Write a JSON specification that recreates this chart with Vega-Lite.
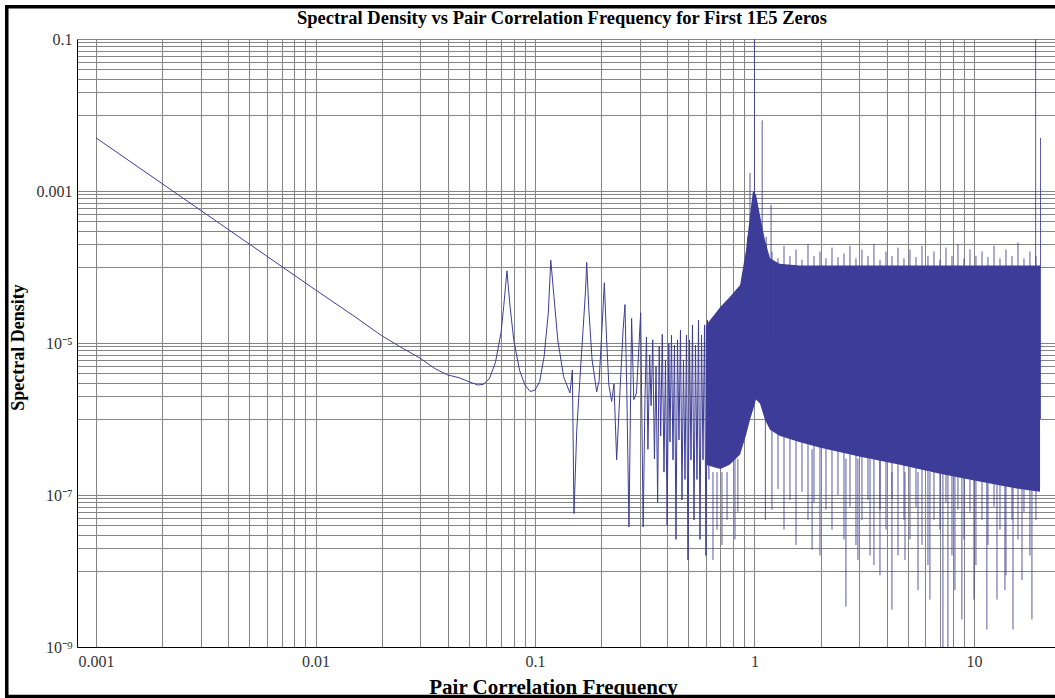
{
  "$schema": "https://vega.github.io/schema/vega-lite/v6.json",
  "width": 978,
  "height": 608,
  "autosize": {"type": "none"},
  "padding": {"left": 77, "top": 39, "right": 0, "bottom": 51},
  "background": "white",
  "config": {"view": {"stroke": null}},
  "title": {
    "text": "Spectral Density vs Pair Correlation Frequency for First 1E5 Zeros",
    "font": "Liberation Serif", "fontSize": 18.5, "fontWeight": "bold", "color": "#000",
    "anchor": "middle", "frame": "group", "dx": -4, "baseline": "alphabetic", "offset": -38
  },
  "datasets": {
    "curve": [
      {"f": 0.001, "s": 0.005},
      {"f": 0.002, "s": 0.00125},
      {"f": 0.005, "s": 0.0002},
      {"f": 0.01, "s": 0.00005},
      {"f": 0.015, "s": 0.0000225},
      {"f": 0.02, "s": 0.0000125},
      {"f": 0.025, "s": 0.0000085},
      {"f": 0.03, "s": 0.0000063},
      {"f": 0.035, "s": 0.0000046},
      {"f": 0.04, "s": 0.0000038},
      {"f": 0.045, "s": 0.0000035},
      {"f": 0.05, "s": 0.0000031},
      {"f": 0.055, "s": 0.0000028},
      {"f": 0.058, "s": 0.00000285},
      {"f": 0.062, "s": 0.0000034},
      {"f": 0.066, "s": 0.0000055},
      {"f": 0.07, "s": 0.0000136},
      {"f": 0.072, "s": 0.00003},
      {"f": 0.0745, "s": 0.000089},
      {"f": 0.077, "s": 0.00003},
      {"f": 0.08, "s": 0.000011},
      {"f": 0.085, "s": 0.0000044},
      {"f": 0.09, "s": 0.0000028},
      {"f": 0.095, "s": 0.0000023},
      {"f": 0.1, "s": 0.0000024},
      {"f": 0.105, "s": 0.0000031},
      {"f": 0.11, "s": 0.0000066},
      {"f": 0.115, "s": 0.000025},
      {"f": 0.118, "s": 0.000123},
      {"f": 0.122, "s": 0.000041},
      {"f": 0.127, "s": 0.000011},
      {"f": 0.135, "s": 0.0000036},
      {"f": 0.1443, "s": 0.0000022},
      {"f": 0.148, "s": 0.0000044},
      {"f": 0.1505, "s": 0.000000057},
      {"f": 0.155, "s": 0.00000072},
      {"f": 0.16, "s": 0.0000032},
      {"f": 0.1656, "s": 0.000015},
      {"f": 0.17, "s": 0.00005},
      {"f": 0.172, "s": 0.000115},
      {"f": 0.176, "s": 0.000027},
      {"f": 0.182, "s": 0.000006},
      {"f": 0.191, "s": 0.00000228},
      {"f": 0.196, "s": 0.0000032},
      {"f": 0.2018, "s": 0.000015},
      {"f": 0.207, "s": 0.000062},
      {"f": 0.212, "s": 0.000011},
      {"f": 0.217, "s": 0.0000028},
      {"f": 0.2235, "s": 0.0000017},
      {"f": 0.229, "s": 0.0000029},
      {"f": 0.2355, "s": 0.00000029},
      {"f": 0.244, "s": 0.0000024},
      {"f": 0.252, "s": 0.000015},
      {"f": 0.257, "s": 0.000032},
      {"f": 0.262, "s": 0.0000024},
      {"f": 0.268, "s": 0.000000038},
      {"f": 0.2755, "s": 0.000021},
      {"f": 0.282, "s": 0.0000018},
      {"f": 0.29, "s": 0.0000022},
      {"f": 0.303, "s": 0.000025},
      {"f": 0.311, "s": 0.000000038},
      {"f": 0.317, "s": 0.0000018},
      {"f": 0.322, "s": 0.000012},
      {"f": 0.327, "s": 0.0000004},
      {"f": 0.333, "s": 0.000007},
      {"f": 0.338, "s": 0.0000015},
      {"f": 0.344, "s": 0.000011},
      {"f": 0.35, "s": 0.0000003},
      {"f": 0.356, "s": 0.000005},
      {"f": 0.362, "s": 0.00000008},
      {"f": 0.368, "s": 0.000009},
      {"f": 0.374, "s": 0.0000006},
      {"f": 0.38, "s": 0.000013},
      {"f": 0.387, "s": 0.0000002},
      {"f": 0.393, "s": 0.000006},
      {"f": 0.4, "s": 0.00000004},
      {"f": 0.407, "s": 0.00001},
      {"f": 0.4121, "s": 0.0000005},
      {"f": 0.4186, "s": 0.0000127},
      {"f": 0.4253, "s": 0.00000029},
      {"f": 0.432, "s": 0.0000094},
      {"f": 0.4389, "s": 0.000000026},
      {"f": 0.4458, "s": 0.000011},
      {"f": 0.4529, "s": 0.00000053},
      {"f": 0.4601, "s": 0.0000148},
      {"f": 0.4674, "s": 0.000000086},
      {"f": 0.4748, "s": 0.000006},
      {"f": 0.4824, "s": 0.00000016},
      {"f": 0.49, "s": 0.0000127},
      {"f": 0.4978, "s": 0.000000014},
      {"f": 0.5058, "s": 0.000011},
      {"f": 0.5138, "s": 0.00000029},
      {"f": 0.5219, "s": 0.0000173},
      {"f": 0.5302, "s": 0.000000047},
      {"f": 0.5386, "s": 0.0000094},
      {"f": 0.5471, "s": 0.00000016},
      {"f": 0.5558, "s": 0.00002},
      {"f": 0.5646, "s": 0.000000026},
      {"f": 0.5736, "s": 0.0000127},
      {"f": 0.5827, "s": 0.00000029},
      {"f": 0.5919, "s": 0.0000173},
      {"f": 0.6012, "s": 0.000000016},
      {"f": 0.6107, "s": 0.00002},
      {"f": 0.6204, "s": 0.00000016}
    ],
    "band": [
      {"f": 0.6, "hi": 0.000017, "lo": 0.00000025},
      {"f": 0.66, "hi": 0.000024, "lo": 0.00000023},
      {"f": 0.7, "hi": 0.00003, "lo": 0.00000022},
      {"f": 0.77, "hi": 0.00004, "lo": 0.00000025},
      {"f": 0.86, "hi": 0.000058, "lo": 0.00000034},
      {"f": 0.915, "hi": 0.000166, "lo": 0.00000061},
      {"f": 0.954, "hi": 0.00048, "lo": 0.00000098},
      {"f": 0.984, "hi": 0.001, "lo": 0.0000013},
      {"f": 1.016, "hi": 0.0009, "lo": 0.0000018},
      {"f": 1.059, "hi": 0.00048, "lo": 0.0000016},
      {"f": 1.116, "hi": 0.000226, "lo": 0.00000098},
      {"f": 1.177, "hi": 0.00013, "lo": 0.00000072},
      {"f": 1.3, "hi": 0.00011, "lo": 0.0000006},
      {"f": 1.6, "hi": 0.000105, "lo": 0.0000005},
      {"f": 2.0, "hi": 0.000105, "lo": 0.00000042},
      {"f": 3.0, "hi": 0.000105, "lo": 0.00000032},
      {"f": 4.6, "hi": 0.000105, "lo": 0.00000025},
      {"f": 7.0, "hi": 0.000105, "lo": 0.00000019},
      {"f": 10.6, "hi": 0.000105, "lo": 0.00000015},
      {"f": 16.2, "hi": 0.000105, "lo": 0.00000012},
      {"f": 20.0, "hi": 0.000105, "lo": 0.00000011}
    ],
    "spikes": [
      {"f": 1.0, "top": 0.1, "bot": 0.000002},
      {"f": 1.084, "top": 0.0085, "bot": 0.00001},
      {"f": 0.954, "top": 0.00173, "bot": 0.00001},
      {"f": 1.19, "top": 0.00066, "bot": 0.00001},
      {"f": 1.13, "top": 0.00025, "bot": 0.00001},
      {"f": 0.93, "top": 0.00025, "bot": 0.00001},
      {"f": 19.1, "top": 0.1, "bot": 0.000001},
      {"f": 20.1, "top": 0.005, "bot": 0.000001},
      {"f": 0.647, "top": 0.0000002, "bot": 0.000000014},
      {"f": 0.675, "top": 0.0000002, "bot": 0.000000035},
      {"f": 0.711, "top": 0.0000002, "bot": 0.000000022},
      {"f": 0.75, "top": 0.0000002, "bot": 0.000000047},
      {"f": 0.815, "top": 0.0000003, "bot": 0.000000026},
      {"f": 0.84, "top": 0.0000003, "bot": 0.00000006},
      {"f": 1.121, "top": 0.000001, "bot": 0.000000047},
      {"f": 1.83, "top": 0.0000004, "bot": 0.000000019},
      {"f": 2.61, "top": 0.0000003, "bot": 0.0000000034},
      {"f": 2.96, "top": 0.0000003, "bot": 0.000000014},
      {"f": 3.36, "top": 0.0000003, "bot": 0.000000016},
      {"f": 3.73, "top": 0.0000003, "bot": 0.0000000088},
      {"f": 4.23, "top": 0.0000002, "bot": 0.0000000031},
      {"f": 4.85, "top": 0.0000002, "bot": 0.000000014},
      {"f": 5.56, "top": 0.0000002, "bot": 0.0000000056},
      {"f": 6.3, "top": 0.0000002, "bot": 0.0000000042},
      {"f": 7.22, "top": 0.0000002, "bot": 0.000000001},
      {"f": 7.61, "top": 0.0000002, "bot": 0.000000001},
      {"f": 8.19, "top": 0.0000002, "bot": 0.0000000056},
      {"f": 8.81, "top": 0.0000002, "bot": 0.0000000023},
      {"f": 10.0, "top": 0.0000002, "bot": 0.0000000042},
      {"f": 11.45, "top": 0.0000002, "bot": 0.0000000017},
      {"f": 12.73, "top": 0.0000002, "bot": 0.0000000042},
      {"f": 13.84, "top": 0.0000002, "bot": 0.0000000056},
      {"f": 15.06, "top": 0.0000002, "bot": 0.0000000017},
      {"f": 16.55, "top": 0.0000002, "bot": 0.0000000076},
      {"f": 18.37, "top": 0.0000002, "bot": 0.0000000023},
      {"f": 1.201, "top": 0.00016, "bot": 0.000000064},
      {"f": 1.28, "top": 0.00013, "bot": 0.00000012},
      {"f": 1.363, "top": 0.00019, "bot": 0.000000035},
      {"f": 1.451, "top": 0.00014, "bot": 0.000000086},
      {"f": 1.546, "top": 0.00017, "bot": 0.000000022},
      {"f": 1.646, "top": 0.000125, "bot": 0.00000011},
      {"f": 1.753, "top": 0.0002, "bot": 0.000000047},
      {"f": 1.867, "top": 0.00014, "bot": 0.00000008},
      {"f": 1.988, "top": 0.00016, "bot": 0.000000016},
      {"f": 2.117, "top": 0.00013, "bot": 0.000000064},
      {"f": 2.255, "top": 0.00018, "bot": 0.000000035},
      {"f": 2.401, "top": 0.000135, "bot": 0.0000001},
      {"f": 2.557, "top": 0.00015, "bot": 0.000000026},
      {"f": 2.723, "top": 0.00019, "bot": 0.00000007},
      {"f": 2.9, "top": 0.00013, "bot": 0.000000022},
      {"f": 3.088, "top": 0.00017, "bot": 0.000000047},
      {"f": 3.289, "top": 0.00014, "bot": 0.000000086},
      {"f": 3.502, "top": 0.0002, "bot": 0.000000012},
      {"f": 3.731, "top": 0.000125, "bot": 0.000000064},
      {"f": 3.973, "top": 0.00016, "bot": 0.000000035},
      {"f": 4.231, "top": 0.00014, "bot": 0.00000009},
      {"f": 4.506, "top": 0.00018, "bot": 0.000000016},
      {"f": 4.799, "top": 0.00013, "bot": 0.000000047},
      {"f": 5.11, "top": 0.00017, "bot": 0.000000026},
      {"f": 5.443, "top": 0.000135, "bot": 0.00000007},
      {"f": 5.797, "top": 0.00019, "bot": 0.000000022},
      {"f": 6.172, "top": 0.00014, "bot": 0.000000012},
      {"f": 6.574, "top": 0.00016, "bot": 0.000000047},
      {"f": 7.0, "top": 0.000125, "bot": 0.000000035},
      {"f": 7.455, "top": 0.00018, "bot": 0.00000008},
      {"f": 7.94, "top": 0.00014, "bot": 0.000000016},
      {"f": 8.456, "top": 0.0002, "bot": 0.000000064},
      {"f": 9.005, "top": 0.00013, "bot": 0.000000026},
      {"f": 9.59, "top": 0.00017, "bot": 0.00000006},
      {"f": 10.21, "top": 0.00014, "bot": 0.000000012},
      {"f": 10.88, "top": 0.00016, "bot": 0.000000047},
      {"f": 11.58, "top": 0.000135, "bot": 0.000000022},
      {"f": 12.34, "top": 0.00019, "bot": 0.00000007},
      {"f": 13.14, "top": 0.00013, "bot": 0.000000035},
      {"f": 13.99, "top": 0.00017, "bot": 0.0000000088},
      {"f": 14.9, "top": 0.00014, "bot": 0.000000047},
      {"f": 15.87, "top": 0.00021, "bot": 0.000000026},
      {"f": 16.9, "top": 0.00013, "bot": 0.00000006},
      {"f": 17.99, "top": 0.00016, "bot": 0.000000016},
      {"f": 19.16, "top": 0.00014, "bot": 0.000000047}
    ]
  },
  "resolve": {"axis": {"x": "independent", "y": "independent"}},
  "layer": [
    {
      "data": {"name": "curve"},
      "mark": {"type": "line", "color": "#3d3d99", "strokeWidth": 1},
      "encoding": {
        "x": {"field": "f", "type": "quantitative",
          "scale": {"type": "log", "domain": [0.000819, 23.4], "nice": false},
          "axis": {"orient": "bottom", "values": [0.001,0.002,0.003,0.004,0.005,0.006,0.007,0.008,0.009,0.01,0.02,0.03,0.04,0.05,0.06,0.07,0.08,0.09,0.1,0.2,0.3,0.4,0.5,0.6,0.7,0.8,0.9,1,2,3,4,5,6,7,8,9,10],
            "grid": true, "gridColor": "#858585", "gridWidth": 1, "labels": false, "ticks": false, "domain": false, "title": null}},
        "y": {"field": "s", "type": "quantitative",
          "scale": {"type": "log", "domain": [1e-9, 0.1], "nice": false},
          "axis": {"orient": "left", "values": [1e-9,1e-8,2e-8,3e-8,4e-8,5e-8,6e-8,7e-8,8e-8,9e-8,1e-7,1e-6,2e-6,3e-6,4e-6,5e-6,6e-6,7e-6,8e-6,9e-6,1e-5,1e-4,2e-4,3e-4,4e-4,5e-4,6e-4,7e-4,8e-4,9e-4,1e-3,0.01,0.02,0.03,0.04,0.05,0.06,0.07,0.08,0.09,0.1],
            "grid": true, "gridColor": "#858585", "gridWidth": 1, "labels": false, "ticks": false, "domain": false, "title": null}}
      }
    },
    {
      "data": {"name": "band"},
      "mark": {"type": "area", "color": "#3d3d99", "opacity": 1},
      "encoding": {
        "x": {"field": "f", "type": "quantitative",
          "scale": {"type": "log", "domain": [0.000819, 23.4], "nice": false},
          "axis": {"orient": "bottom", "values": [0.001, 0.01, 0.1, 1, 10], "format": "~g",
            "grid": false, "ticks": false, "domain": true, "domainColor": "#000", "domainWidth": 1,
            "labelFont": "Liberation Serif", "labelFontSize": 16, "labelColor": "#333", "labelPadding": 6,
            "title": "Pair Correlation Frequency", "titleFont": "Liberation Serif", "titleFontSize": 21,
            "titleFontWeight": "bold", "titleColor": "#000", "titleX": 476, "titleY": 46, "titleBaseline": "alphabetic"}},
        "y": {"field": "hi", "type": "quantitative",
          "scale": {"type": "log", "domain": [1e-9, 0.1], "nice": false},
          "axis": {"orient": "left", "values": [1e-9, 1e-7, 1e-5, 0.001, 0.1],
            "labelExpr": "datum.value > 0.01 ? '0.1' : datum.value > 0.0001 ? '0.001' : datum.value > 0.000001 ? '10⁻⁵' : datum.value > 0.00000001 ? '10⁻⁷' : '10⁻⁹'",
            "grid": false, "ticks": false, "domain": true, "domainColor": "#000", "domainWidth": 1,
            "labelFont": "Liberation Serif", "labelFontSize": 16, "labelColor": "#333", "labelPadding": 5,
            "title": "Spectral Density", "titleFont": "Liberation Serif", "titleFontSize": 18,
            "titleFontWeight": "bold", "titleColor": "#000", "titleX": -54, "titleY": 308, "titleBaseline": "alphabetic", "titleAngle": -90}},
        "y2": {"field": "lo"}
      }
    },
    {
      "data": {"name": "spikes"},
      "mark": {"type": "rule", "color": "#3d3d99", "strokeWidth": 1, "opacity": 0.85},
      "encoding": {
        "x": {"field": "f", "type": "quantitative", "scale": {"type": "log", "domain": [0.000819, 23.4], "nice": false}, "axis": null},
        "y": {"field": "top", "type": "quantitative", "scale": {"type": "log", "domain": [1e-9, 0.1], "nice": false}, "axis": null},
        "y2": {"field": "bot"}
      }
    },
    {
      "data": {"values": [{}]},
      "mark": {"type": "rect", "fill": "transparent", "stroke": "#000", "strokeWidth": 3.5},
      "encoding": {
        "x": {"datum": 0.000392, "type": "quantitative", "scale": {"type": "log", "domain": [0.000819, 23.4], "nice": false}, "axis": null},
        "x2": {"datum": 40},
        "y": {"datum": 0.266, "type": "quantitative", "scale": {"type": "log", "domain": [1e-9, 0.1], "nice": false}, "axis": null},
        "y2": {"datum": 2.23e-10}
      }
    }
  ]
}
